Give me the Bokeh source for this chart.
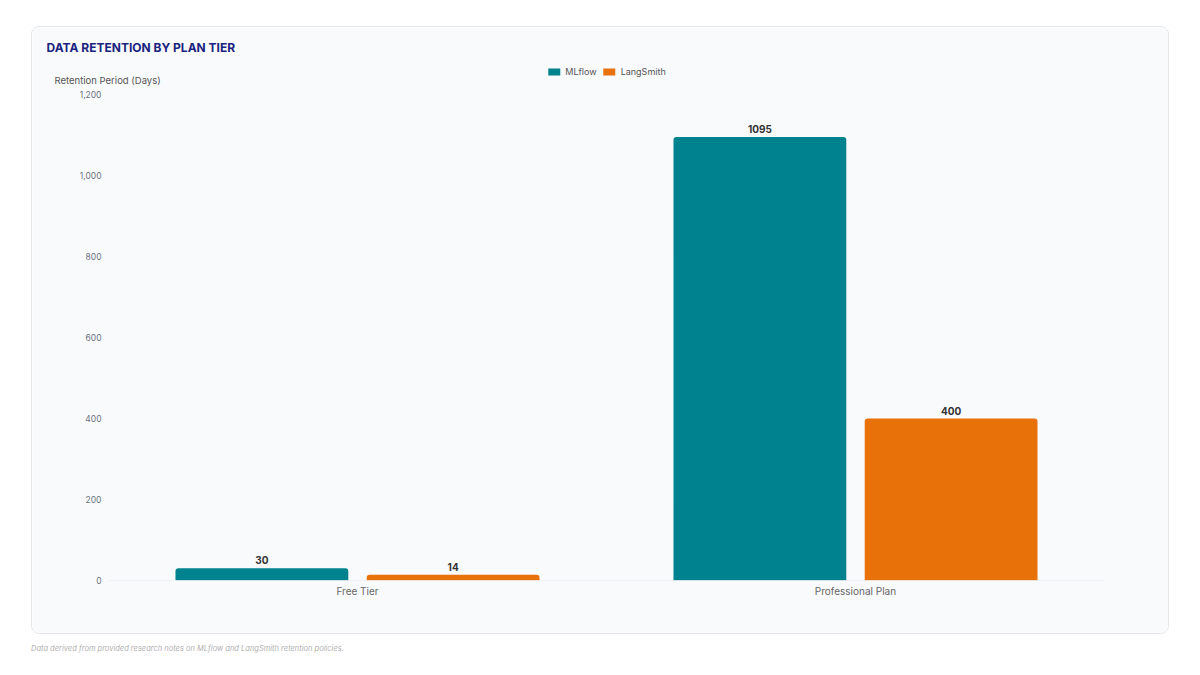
from bokeh.plotting import figure
from bokeh.models import (ColumnDataSource, FactorRange, LabelSet, Label, Div,
                          Legend, LegendItem, FixedTicker, NumeralTickFormatter, Range1d)
from bokeh.layouts import column
from bokeh.core.properties import value
from bokeh.transform import dodge
from bokeh.embed import file_html
from bokeh.resources import INLINE

# ---- data ----
plans = ["Free Tier", "Professional Plan"]
mlflow = [30, 1095]
langsmith = [14, 400]
y_ticks = [0, 200, 400, 600, 800, 1000, 1200]
y_max = 1200

title_text = "DATA RETENTION BY PLAN TIER"
y_title = "Retention Period (Days)"
footer = "Data derived from provided research notes on MLflow and LangSmith retention policies."

TEAL = "#00838f"
ORANGE = "#e8710a"
CARD = "#f9fafc"
FONT = "Inter"

src = ColumnDataSource(dict(plan=plans, mlflow=mlflow, langsmith=langsmith,
                            ml_lbl=[str(v) for v in mlflow],
                            ls_lbl=[str(v) for v in langsmith]))
base_src = ColumnDataSource(dict(x0=[plans[0]], x1=[plans[-1]], y=[0]))

# layout geometry (pixels, inside the card canvas)
W, H = 1138, 608
frame_top, frame_bottom = 1, 553        # frame spans the card height
plot_top = 67                           # pixel where y_max sits
y_end = y_max * (frame_bottom - frame_top) / (frame_bottom - plot_top)
pad = 62 / 498                          # extra space each side, in category widths

p = figure(width=W, height=H, x_range=FactorRange(*plans, range_padding=pad,
                                                    range_padding_units="absolute"),
           y_range=Range1d(0, y_end),
           output_backend="svg", toolbar_location=None,
           min_border_left=14, min_border_right=4, min_border_top=frame_top,
           min_border_bottom=H - frame_bottom)
p.border_fill_color = CARD
p.background_fill_color = CARD
p.outline_line_color = None
p.margin = (26, 31, 0, 31)
p.styles = {"border": "1px solid #e5e7eb", "border-radius": "8px", "overflow": "hidden"}

r1 = p.vbar(x=dodge("plan", -0.192, range=p.x_range), top="mlflow", width=0.347, source=src,
            fill_color=TEAL, line_color=None, border_radius=(3, 3, 0, 0))
r2 = p.vbar(x=dodge("plan", 0.192, range=p.x_range), top="langsmith", width=0.347, source=src,
            fill_color=ORANGE, line_color=None, border_radius=(3, 3, 0, 0))

# baseline across the category band
p.segment(x0=dodge("x0", -0.5, range=p.x_range), x1=dodge("x1", 0.5, range=p.x_range),
          y0="y", y1="y", source=base_src, line_color="#e5e7eb", line_width=1)

for col, lbl, off in (("mlflow", "ml_lbl", -0.192), ("langsmith", "ls_lbl", 0.192)):
    ls = LabelSet(x=dodge("plan", off, range=p.x_range), y=col, text=lbl, source=src,
                  text_align="center", text_baseline="middle", y_offset=8,
                  text_font=value(FONT), text_font_size="10px", text_font_style="bold",
                  text_color="#333333")
    p.add_layout(ls)

# axes
p.yaxis.ticker = FixedTicker(ticks=y_ticks)
p.yaxis.formatter = NumeralTickFormatter(format="0,0")
p.yaxis.axis_line_color = None
p.yaxis.major_tick_line_color = None
p.yaxis.major_tick_out = 0
p.yaxis.major_tick_in = 0
p.yaxis.minor_tick_line_color = None
p.yaxis.major_label_text_font = FONT
p.yaxis.major_label_text_font_size = "8.5px"
p.yaxis.major_label_text_color = "#6b7280"
p.yaxis.major_label_standoff = -55

p.xaxis.axis_line_color = None
p.xaxis.major_tick_line_color = None
p.xaxis.major_tick_out = 0
p.xaxis.major_tick_in = 0
p.xaxis.minor_tick_line_color = None
p.xaxis.major_label_text_font = FONT
p.xaxis.major_label_text_font_size = "10px"
p.xaxis.major_label_text_color = "#666666"
p.xaxis.major_label_standoff = 4

p.xgrid.grid_line_color = None
p.ygrid.grid_line_color = None

legend = Legend(items=[LegendItem(label="MLflow", renderers=[r1]),
                       LegendItem(label="LangSmith", renderers=[r2])],
                location="top_center", orientation="horizontal",
                background_fill_alpha=0, border_line_color=None,
                label_text_font=FONT, label_text_font_size="9px", label_text_color="#555555",
                glyph_width=15, glyph_height=9, label_height=12, label_standoff=4,
                spacing=5, padding=0, margin=37)
p.add_layout(legend)

fh = frame_bottom - frame_top
p.add_layout(Label(x=0, y=fh - 19, x_units="screen", y_units="screen", text=title_text,
                   text_font=FONT, text_font_size="12px", text_font_style="bold",
                   text_color="#1a237e", text_baseline="middle"))
p.add_layout(Label(x=8, y=fh - 52, x_units="screen", y_units="screen", text=y_title,
                   text_font=FONT, text_font_size="9.5px", text_color="#555555",
                   text_baseline="middle"))

foot = Div(text=footer, margin=(10, 0, 0, 31),
           styles={"font-family": "Inter", "font-size": "7.5px", "font-style": "italic",
                   "color": "#b0b0b0"})

layout = column(p, foot)
open("out.html", "w").write(file_html(layout, INLINE))
